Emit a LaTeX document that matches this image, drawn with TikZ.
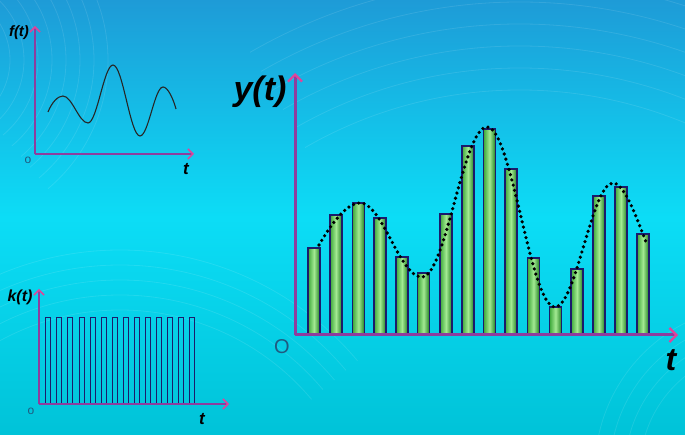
\documentclass[tikz,border=0pt]{standalone}
\usepackage{fontspec}
\setmainfont{Liberation Sans}
\usetikzlibrary{arrows.meta}
\definecolor{bgtop}{HTML}{1E9BD7}
\definecolor{bgmid}{HTML}{0CDDF6}
\definecolor{bgbot}{HTML}{00C3D8}
\definecolor{axispurple}{HTML}{8E3D9E}
\definecolor{arrowpink}{HTML}{E0449A}
\definecolor{barnavy}{HTML}{1B1B6B}
\definecolor{greenlight}{HTML}{A3EA92}
\definecolor{greenleft}{HTML}{3DA83A}
\definecolor{greenright}{HTML}{1E7F20}
\definecolor{zerocol}{HTML}{1F5A80}
\begin{document}
\begin{tikzpicture}[x=1pt,y=-1pt,
  axisline/.style={draw=axispurple, line width=#1, -{Straight Barb[color=arrowpink,length=5pt,width=10pt,line width=1.5pt]}},
  bigaxis/.style={draw=axispurple, line width=3pt, -{Straight Barb[color=arrowpink,length=7pt,width=14pt,line width=2.2pt]}},
  bar/.style={draw=barnavy, line width=1.3pt, left color=greenleft, right color=greenright, middle color=greenlight},
  pulse/.style={draw=barnavy, line width=0.8pt},
  dotcurve/.style={draw=black, line width=3.6pt, dash pattern=on 0pt off 5.4pt, line cap=round},
  sig/.style={draw=black!85, line width=1.1pt},
  lbl/.style={font=\bfseries\itshape, inner sep=0pt, text=black},
  zero/.style={inner sep=0pt, text=zerocol},
  swirl/.style={draw=white, opacity=0.1, line width=0.8pt}]
\useasboundingbox (0,0) rectangle (685,435);
% background
\shade[top color=bgtop, bottom color=bgbot, middle color=bgmid] (0,0) rectangle (685,435);
\begin{scope}
\clip (0,0) rectangle (685,435);
\foreach \r in {430,452,474,496,518,540} {
  \draw[swirl] (520,520) ++(-120:\r) arc[start angle=-120, end angle=-40, radius=\r];
}
\foreach \r in {70,84,98,112,126,140,154,168} {
  \draw[swirl] (-60,60) ++(-60:\r) arc[start angle=-60, end angle=50, radius=\r];
}
\foreach \r in {250,265,280,295,310} {
  \draw[swirl] (120,560) ++(-150:\r) arc[start angle=-150, end angle=-40, radius=\r];
}
\foreach \r in {120,135,150,165} {
  \draw[swirl] (760,470) ++(-180:\r) arc[start angle=-180, end angle=-100, radius=\r];
}
\end{scope}

% ---- f(t) small plot
\coordinate (fO) at (35,154);
\coordinate (fY) at (35,26);
\coordinate (fT) at (194,154);
\draw[sig] (48,112) .. controls (52,102) and (58,96) .. (63,96)
  .. controls (72,96) and (79,123) .. (88,123)
  .. controls (97,123) and (104,65) .. (113,65)
  .. controls (122.8,65) and (130.2,136) .. (140,136)
  .. controls (148.4,136) and (154.6,87) .. (163,87)
  .. controls (167.7,87) and (173,98) .. (176,109);
\draw[axisline=1.6pt] (fO) -- (fY);
\draw[axisline=1.6pt] (fO) -- (fT);
\node[lbl, font=\bfseries\itshape\fontsize{15}{15}\selectfont] (flab) at (19,33) {f(t)};
\node[zero, font=\fontsize{12}{12}\selectfont] (fzero) at (28,160) {o};
\node[lbl, font=\bfseries\itshape\fontsize{17}{17}\selectfont] (ftlab) at (186,169) {t};

% ---- k(t) small plot
\coordinate (kO) at (39,404);
\coordinate (kY) at (39,289);
\coordinate (kT) at (229,404);
\foreach \i in {0,...,13} {
  \draw[pulse] ({45.7+11.07*\i},404) rectangle ({50.7+11.07*\i},317);
}
\draw[axisline=1.6pt] (kO) -- (kY);
\draw[axisline=1.6pt] (kO) -- (kT);
\node[lbl, font=\bfseries\itshape\fontsize{16}{16}\selectfont] (klab) at (20,297) {k(t)};
\node[zero, font=\fontsize{12}{12}\selectfont] (kzero) at (31,411) {o};
\node[lbl, font=\bfseries\itshape\fontsize{17}{17}\selectfont] (ktlab) at (202,419) {t};

% ---- y(t) main plot
\coordinate (O) at (295,335);
\coordinate (Y) at (295,73);
\coordinate (T) at (678,335);
\foreach \x/\t in {314/248,336/215,358.5/203,380/218,402/257,423.5/273,446/214,468/146,489.5/129,511/169,533.5/258,555.5/307,577/269,599/196,621/187,643/234} {
  \draw[bar] (\x-6,334) rectangle (\x+6,\t);
}
\draw[dotcurve] (319,245) .. controls (330,226) and (346,203) .. (360,203)
  .. controls (382.6,203) and (399.4,277) .. (422,277)
  .. controls (445.7,277) and (463.3,127) .. (487,127)
  .. controls (511.8,127) and (530.2,307) .. (555,307)
  .. controls (576.1,307) and (591.9,183) .. (613,183)
  .. controls (625,183) and (638,222) .. (646,242);
\draw[bigaxis] (O) -- (Y);
\draw[bigaxis] (O) -- (T);
\node[lbl, font=\bfseries\itshape\fontsize{34}{34}\selectfont] (ylab) at (260,92) {y(t)};
\node[zero, font=\fontsize{20}{20}\selectfont] (yzero) at (282,347) {O};
\node[lbl, font=\bfseries\itshape\fontsize{32}{32}\selectfont] (ytlab) at (671,360) {t};
\end{tikzpicture}
\end{document}
